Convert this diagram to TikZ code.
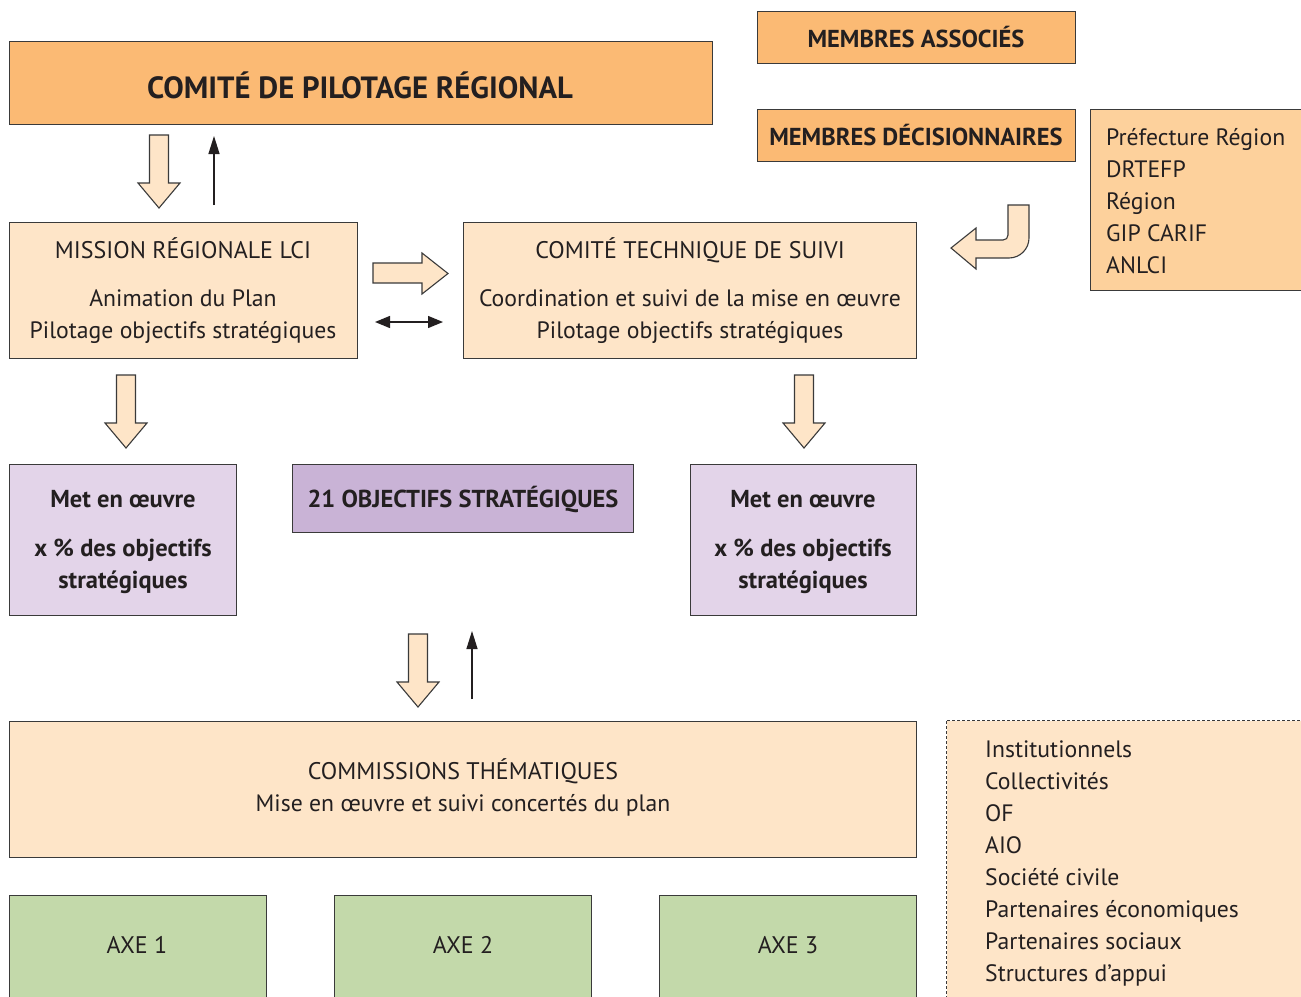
\documentclass[tikz,border=0pt]{standalone}
\usepackage{fontspec}
\setmainfont{PT Sans}
\newfontfamily\dinb{PT Sans Bold}
\usetikzlibrary{arrows.meta}
\definecolor{dorange}{HTML}{FBBA74}
\definecolor{morange}{HTML}{FDD19C}
\definecolor{lorange}{HTML}{FEE5C8}
\definecolor{dpurple}{HTML}{C9B3D6}
\definecolor{lpurple}{HTML}{E3D4E9}
\definecolor{lgreen}{HTML}{C3D9AA}
\definecolor{edge}{HTML}{3A3A3A}
\definecolor{txt}{HTML}{231F20}
\newcommand\hollowdown[2]{%
  \draw[hollow] (#1-9.5,#2) -- (#1+9.5,#2) -- (#1+9.5,#2+48) -- (#1+21,#2+48)
    -- (#1,#2+73) -- (#1-21,#2+48) -- (#1-9.5,#2+48) -- cycle;}
\begin{document}
\begin{tikzpicture}[x=1pt,y=-1pt,
  box/.style={draw=edge,line width=1.2pt,anchor=north west,inner sep=0pt},
  hollow/.style={draw=edge,fill=lorange,line width=1.1pt,line join=miter},
  thin/.style={draw=txt,line width=1.3pt},
  body/.style={text=txt,font=\fontsize{23.7}{28}\selectfont,inner sep=0pt},
  bold/.style={text=txt,font=\dinb\fontsize{24.5}{29}\selectfont,inner sep=0pt},
  hd/.style={text=txt,font=\fontsize{24}{29}\selectfont,inner sep=0pt}]
\useasboundingbox (0,0) rectangle (1301,996);
\fill[white] (0,0) rectangle (1301,996);

% boxes
\node[box,fill=dorange,minimum width=703,minimum height=83] (cp) at (9,41) {};
\node[box,fill=dorange,minimum width=318,minimum height=52] (ma) at (757,11) {};
\node[box,fill=dorange,minimum width=318,minimum height=52] (md) at (757,109) {};
\node[box,fill=morange,minimum width=230,minimum height=181] (pr) at (1090,109) {};
\node[box,fill=lorange,minimum width=348,minimum height=136] (mr) at (9,222) {};
\node[box,fill=lorange,minimum width=453,minimum height=136] (ct) at (463,222) {};
\node[box,fill=lpurple,minimum width=227,minimum height=151] (m1) at (9,464) {};
\node[box,fill=dpurple,minimum width=341,minimum height=68] (os) at (292,464) {};
\node[box,fill=lpurple,minimum width=226,minimum height=151] (m2) at (690,464) {};
\node[box,fill=lorange,minimum width=907,minimum height=136] (cm) at (9,721) {};
\node[box,fill=lorange,draw=none,minimum width=370,minimum height=290] (pa) at (946,720) {};
\draw[edge,line width=1pt,dash pattern=on 3pt off 2pt] (1310,720) -- (946,720) -- (946,1005);
\node[box,fill=lgreen,minimum width=257,minimum height=110] (a1) at (9,895) {};
\node[box,fill=lgreen,minimum width=257,minimum height=110] (a2) at (334,895) {};
\node[box,fill=lgreen,minimum width=257,minimum height=110] (a3) at (659,895) {};

% texts
\node[text=txt,font=\dinb\fontsize{30.7}{36}\selectfont,inner sep=0pt,anchor=base] (tcp) at (360,98) {COMITÉ DE PILOTAGE RÉGIONAL};
\node[bold,anchor=base] (tma) at (916,47) {MEMBRES ASSOCIÉS};
\node[bold,anchor=base] (tmd) at (916,145) {MEMBRES DÉCISIONNAIRES};
\foreach \t [count=\i from 0] in {Préfecture Région,DRTEFP,Région,GIP CARIF,ANLCI}
  \node[body,anchor=base west] (tp\i) at (1106,145+32*\i) {\t};
\node[hd,anchor=base] (tmr) at (183,258) {MISSION RÉGIONALE LCI};
\node[body,anchor=base] (tmr1) at (183,306) {Animation du Plan};
\node[body,anchor=base] (tmr2) at (183,338) {Pilotage objectifs stratégiques};
\node[hd,anchor=base] (tct) at (690,258) {COMITÉ TECHNIQUE DE SUIVI};
\node[body,anchor=base] (tct1) at (690,306) {Coordination et suivi de la mise en œuvre};
\node[body,anchor=base] (tct2) at (690,338) {Pilotage objectifs stratégiques};
\foreach \c/\n in {123/l,803/r}{
  \node[bold,anchor=base] (me\n) at (\c,507) {Met en œuvre};
  \node[bold,anchor=base] (xp\n) at (\c,556) {x \% des objectifs};
  \node[bold,anchor=base] (st\n) at (\c,588) {stratégiques};
}
\node[bold,anchor=base] (tos) at (463,507) {21 OBJECTIFS STRATÉGIQUES};
\node[hd,anchor=base] (tcm) at (463,779) {COMMISSIONS THÉMATIQUES};
\node[body,anchor=base] (tcm1) at (463,811) {Mise en œuvre et suivi concertés du plan};
\foreach \t [count=\i from 0] in {Institutionnels,Collectivités,OF,AIO,Société civile,Partenaires économiques,Partenaires sociaux,Structures d’appui}
  \node[body,anchor=base west] (tq\i) at (985,757+32*\i) {\t};
\node[hd,anchor=base] (ta1) at (137,953) {AXE 1};
\node[hd,anchor=base] (ta2) at (463,953) {AXE 2};
\node[hd,anchor=base] (ta3) at (788,953) {AXE 3};

% hollow arrows
\hollowdown{159}{135}
\hollowdown{126}{375}
\hollowdown{804}{375}
\hollowdown{418}{634}
\draw[hollow] (373,263) -- (422,263) -- (422,253) -- (448,273.5) -- (422,294) -- (422,283) -- (373,283) -- cycle;
\draw[hollow] (1008,205) -- (1029,205) -- (1029,238) .. controls (1029,249) and (1020,258) .. (1009,258)
  -- (976,258) -- (976,269) -- (951,248) -- (976,228) -- (976,240) -- (1003,240)
  .. controls (1006,240) and (1008,238) .. (1008,235) -- cycle;

% thin arrows
\coordinate (u1s) at (214,205); \coordinate (u1e) at (214,136);
\draw[thin,-{Triangle[length=18pt,width=11pt]}] (u1s) -- (u1e);
\coordinate (u2s) at (472,699); \coordinate (u2e) at (472,631);
\draw[thin,-{Triangle[length=18pt,width=11pt]}] (u2s) -- (u2e);
\coordinate (d1) at (375,322); \coordinate (d2) at (443,322);
\draw[thin,{Triangle[length=15pt,width=12pt]}-{Triangle[length=15pt,width=12pt]}] (d1) -- (d2);
\end{tikzpicture}
\end{document}
